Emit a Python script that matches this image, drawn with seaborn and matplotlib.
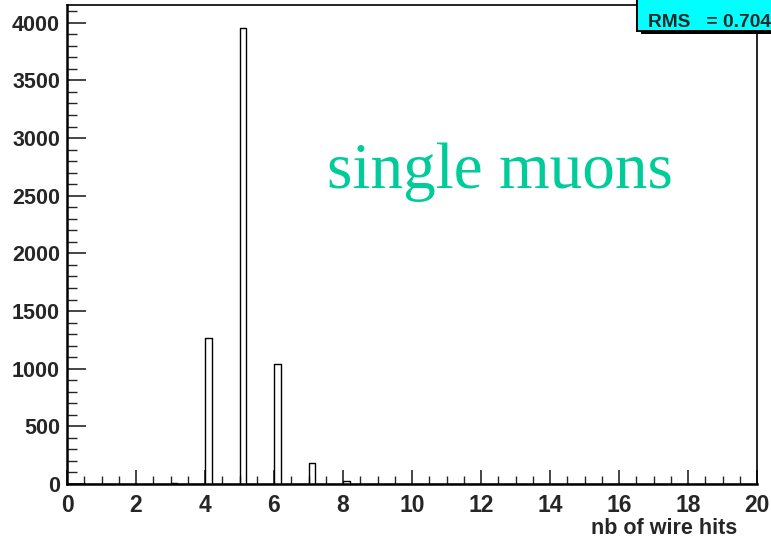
import numpy as np
import pandas as pd
import matplotlib.pyplot as plt
import seaborn as sns
from matplotlib.patches import Rectangle
from matplotlib.ticker import MultipleLocator

# histogram content (bin width 0.2, only non-empty bins listed)
nb_hits = [3, 4, 5, 6, 7, 8]
counts = [8, 1264, 3956, 1038, 180, 30]
rms_text = "RMS   = 0.7040"

sns.set_style("ticks")
plt.rcParams['font.family'] = ['Liberation Sans', 'DejaVu Sans']

fig = plt.figure(figsize=(7.71, 5.38), dpi=100)
ax = fig.add_axes([67 / 771, 54 / 538, 690 / 771, 479 / 538])

df = pd.DataFrame({"hits": np.array(nb_hits) + 0.1, "n": counts})
sns.histplot(data=df, x="hits", weights="n", binwidth=0.2, binrange=(0, 20),
             element="step", fill=False, color="black", linewidth=1.0, ax=ax)

ax.set_xlim(0, 20)
ax.set_ylim(0, 4154)
ax.set_xlabel("")
ax.set_ylabel("")

ax.xaxis.set_major_locator(MultipleLocator(2))
ax.xaxis.set_minor_locator(MultipleLocator(0.5))
ax.yaxis.set_major_locator(MultipleLocator(500))
ax.yaxis.set_minor_locator(MultipleLocator(100))

ax.tick_params(axis="x", which="major", direction="in", length=10, width=1.2, pad=7.5)
ax.tick_params(axis="x", which="minor", direction="in", length=5.5, width=1.0)
ax.tick_params(axis="y", which="major", direction="in", length=13.5, width=1.2, pad=5)
ax.tick_params(axis="y", which="minor", direction="in", length=7, width=1.0)

for lab in ax.get_xticklabels():
    lab.set_fontweight("bold")
    lab.set_fontsize(16.5)
for lab in ax.get_yticklabels():
    lab.set_fontweight("bold")
    lab.set_fontsize(15.5)

for side in ["top", "right"]:
    ax.spines[side].set_visible(True)
    ax.spines[side].set_linewidth(1.2)
for side in ["left", "bottom"]:
    ax.spines[side].set_linewidth(1.8)
for sp in ax.spines.values():
    sp.set_color("black")

ax.text(0.628, 0.618, "single muons", transform=ax.transAxes, ha="center",
        va="baseline", family=['Liberation Serif', 'DejaVu Serif'],
        fontsize=47, color="#00cc99")

fig.text(737 / 771, 4 / 538, "nb of wire hits", ha="right", va="baseline",
         fontweight="bold", fontsize=15.5)

# stats box in the top right corner (cut by the canvas edge)
shadow = Rectangle((641 / 771, 1 - 34 / 538), 140 / 771, 40 / 538,
                   transform=fig.transFigure, facecolor="black", edgecolor="none", zorder=5)
box = Rectangle((637 / 771, 1 - 31 / 538), 140 / 771, 40 / 538,
                transform=fig.transFigure, facecolor="#00ffff", edgecolor="black",
                linewidth=1.4, zorder=6)
fig.patches.extend([shadow, box])
fig.text(648 / 771, 1 - 27 / 538, rms_text, ha="left", va="baseline",
         fontweight="bold", fontsize=13.8, zorder=7)

fig.savefig("out.png", dpi=100)
